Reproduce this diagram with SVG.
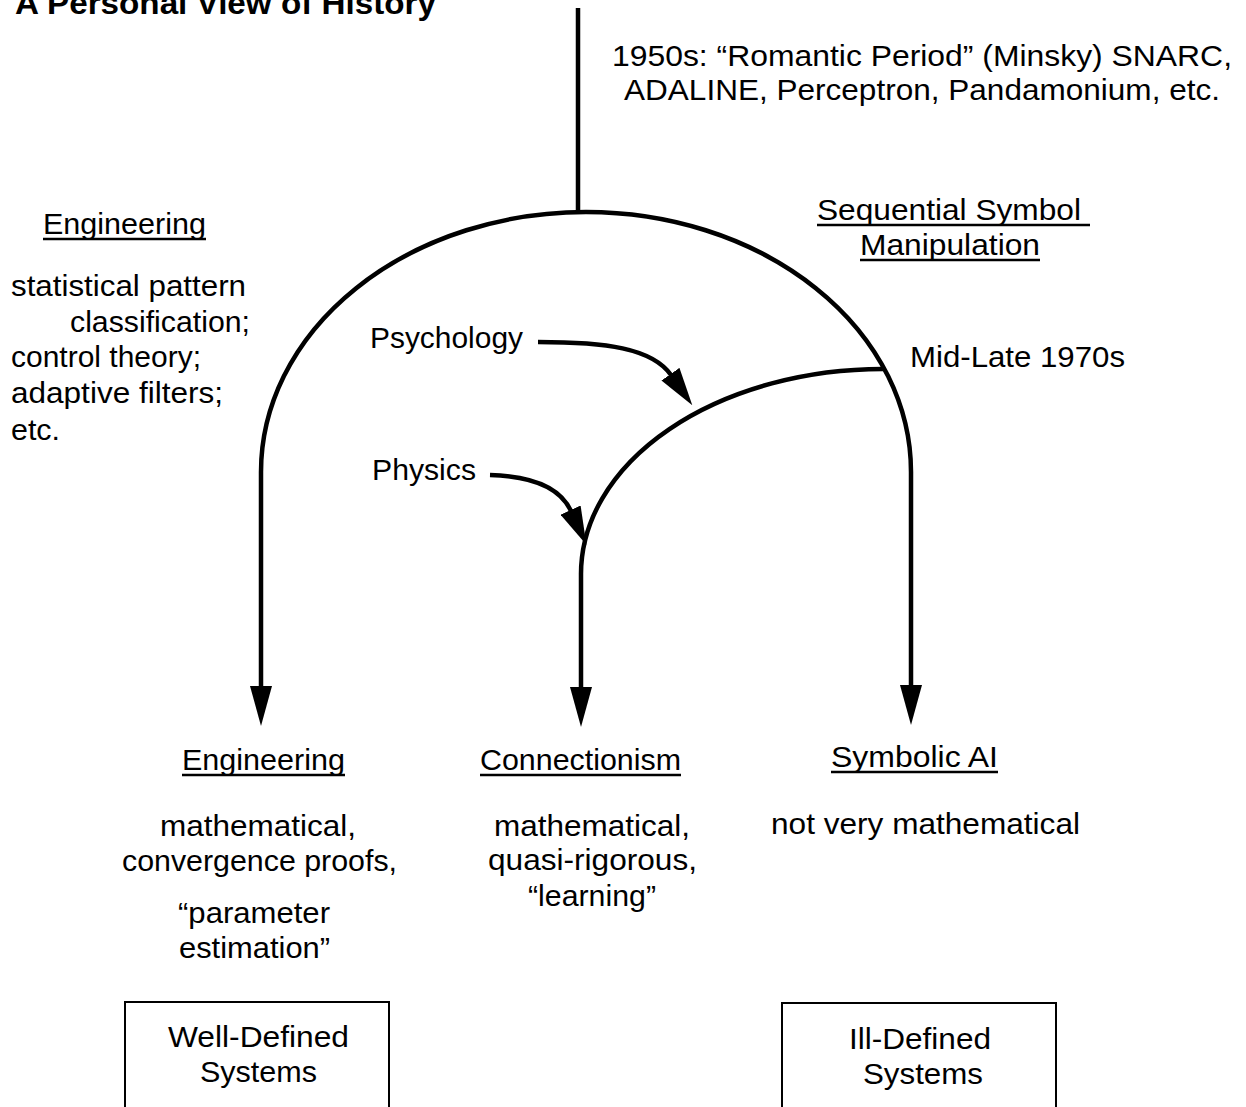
<svg xmlns="http://www.w3.org/2000/svg" width="1246" height="1107" viewBox="0 0 1246 1107">
  <style>
    text { font-family: "Liberation Sans", Arial, Helvetica, sans-serif; font-size: 30px; fill: #000; }
    .title { font-weight: bold; font-size: 32px; }
    .ul { stroke: #000; stroke-width: 2.5; }
    .conn { fill: none; stroke: #000; stroke-width: 4.5; }
    .box { fill: none; stroke: #000; stroke-width: 2; }
  </style>
  <defs>
    <marker id="head" markerUnits="userSpaceOnUse" viewBox="0 0 40 22" markerWidth="40" markerHeight="22" refX="1" refY="11" orient="auto">
      <path d="M0,0 L40,11 L0,22 z" fill="#000"/>
    </marker>
    <marker id="headSm" markerUnits="userSpaceOnUse" viewBox="0 0 38 22" markerWidth="38" markerHeight="22" refX="1" refY="11" orient="auto">
      <path d="M0,0 L38,11 L0,22 z" fill="#000"/>
    </marker>
  </defs>

  <text class="title" x="15" y="14" textLength="421" lengthAdjust="spacingAndGlyphs">A Personal View of History</text>

  <!-- branching lines of the history tree -->
  <g id="connectors">
    <path class="conn" d="M578 8 V213"/>
    <path class="conn" d="M586 212 A325 260 0 0 0 261 472 V687" marker-end="url(#head)"/>
    <path class="conn" d="M586 212 A325 260 0 0 1 911 472 V686" marker-end="url(#head)"/>
    <path class="conn" d="M883 369 A302 205 0 0 0 581 574 V688" marker-end="url(#head)"/>
    <path class="conn" d="M538 342 C605 342, 652 348, 671 375" marker-end="url(#headSm)"/>
    <path class="conn" d="M490 475 C530 476, 560 487, 571 511" marker-end="url(#headSm)"/>
  </g>

  <g id="origins">
    <text x="612" y="66" textLength="620" lengthAdjust="spacingAndGlyphs">1950s: “Romantic Period” (Minsky)  SNARC,</text>
    <text x="624" y="100" textLength="596" lengthAdjust="spacingAndGlyphs">ADALINE, Perceptron, Pandamonium, etc.</text>
  </g>

  <g id="sequential-symbol">
    <text x="817" y="220" textLength="264" lengthAdjust="spacingAndGlyphs">Sequential Symbol</text>
    <line class="ul" x1="817" y1="225" x2="1090" y2="225"/>
    <text x="860" y="255" textLength="180" lengthAdjust="spacingAndGlyphs">Manipulation</text>
    <line class="ul" x1="860" y1="260" x2="1040" y2="260"/>
  </g>

  <g id="engineering-early">
    <text x="43" y="234" textLength="163" lengthAdjust="spacingAndGlyphs">Engineering</text>
    <line class="ul" x1="43" y1="239" x2="206" y2="239"/>
    <text x="11" y="296" textLength="235" lengthAdjust="spacingAndGlyphs">statistical  pattern</text>
    <text x="70" y="332" textLength="180" lengthAdjust="spacingAndGlyphs">classification;</text>
    <text x="11" y="367" textLength="190" lengthAdjust="spacingAndGlyphs">control  theory;</text>
    <text x="11" y="403" textLength="212" lengthAdjust="spacingAndGlyphs">adaptive  filters;</text>
    <text x="11" y="440" textLength="49" lengthAdjust="spacingAndGlyphs">etc.</text>
  </g>

  <g id="psychology">
    <text x="370" y="348" textLength="153" lengthAdjust="spacingAndGlyphs">Psychology</text>
  </g>
  <g id="physics">
    <text x="372" y="480" textLength="104" lengthAdjust="spacingAndGlyphs">Physics</text>
  </g>
  <g id="mid-late-1970s">
    <text x="910" y="367" textLength="215" lengthAdjust="spacingAndGlyphs">Mid-Late 1970s</text>
  </g>

  <g id="engineering">
    <text x="182" y="770" textLength="163" lengthAdjust="spacingAndGlyphs">Engineering</text>
    <line class="ul" x1="182" y1="775" x2="345" y2="775"/>
    <text x="160" y="836" textLength="196" lengthAdjust="spacingAndGlyphs">mathematical,</text>
    <text x="122" y="871" textLength="275" lengthAdjust="spacingAndGlyphs">convergence proofs,</text>
    <text x="178" y="923" textLength="152" lengthAdjust="spacingAndGlyphs">“parameter</text>
    <text x="179" y="958" textLength="151" lengthAdjust="spacingAndGlyphs">estimation”</text>
  </g>

  <g id="connectionism">
    <text x="480" y="770" textLength="201" lengthAdjust="spacingAndGlyphs">Connectionism</text>
    <line class="ul" x1="480" y1="775" x2="681" y2="775"/>
    <text x="494" y="836" textLength="196" lengthAdjust="spacingAndGlyphs">mathematical,</text>
    <text x="488" y="870" textLength="209" lengthAdjust="spacingAndGlyphs">quasi-rigorous,</text>
    <text x="528" y="906" textLength="128" lengthAdjust="spacingAndGlyphs">“learning”</text>
  </g>

  <g id="symbolic-ai">
    <text x="831" y="767" textLength="167" lengthAdjust="spacingAndGlyphs">Symbolic AI</text>
    <line class="ul" x1="831" y1="772" x2="998" y2="772"/>
    <text x="771" y="834" textLength="309" lengthAdjust="spacingAndGlyphs">not very mathematical</text>
  </g>

  <g id="well-defined-systems">
    <rect class="box" x="125" y="1002" width="264" height="120"/>
    <text x="168" y="1047" textLength="181" lengthAdjust="spacingAndGlyphs">Well-Defined</text>
    <text x="200" y="1082" textLength="117" lengthAdjust="spacingAndGlyphs">Systems</text>
  </g>

  <g id="ill-defined-systems">
    <rect class="box" x="782" y="1003" width="274" height="120"/>
    <text x="849" y="1049" textLength="142" lengthAdjust="spacingAndGlyphs">Ill-Defined</text>
    <text x="863" y="1084" textLength="120" lengthAdjust="spacingAndGlyphs">Systems</text>
  </g>
</svg>
